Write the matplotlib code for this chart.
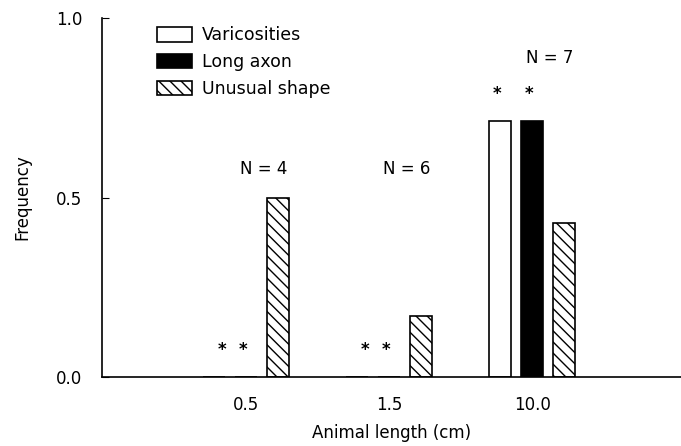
import numpy as np
import matplotlib
matplotlib.use("Agg")
import matplotlib.pyplot as plt
from matplotlib.patches import Patch

groups = ["0.5", "1.5", "10.0"]
group_n = [4, 6, 7]
varicosities = [0.0, 0.0, 5 / 7]
long_axon = [0.0, 0.0, 5 / 7]
unusual_shape = [0.50, 0.17, 3 / 7]

plt.rcParams["font.family"] = "DejaVu Sans"
plt.rcParams["hatch.linewidth"] = 1.0

HATCH = "\\" * 3

fig = plt.figure(figsize=(6.81, 4.46), dpi=100)
ax = fig.add_axes([0.1498, 0.1547, 0.8502, 0.8049])

x = np.arange(len(groups))
w = 0.154
off = 0.224
ax.bar(x - off, varicosities, w, color="white", edgecolor="black", linewidth=1.2)
ax.bar(x, long_axon, w, color="black", edgecolor="black", linewidth=1.2)
ax.bar(x + off, unusual_shape, w, color="white", edgecolor="black",
       linewidth=1.2, hatch=HATCH)

# stars and N labels
for i, n in enumerate(group_n):
    if varicosities[i] == 0:
        sx = [x[i] - 0.17, x[i] - 0.02]
        sy = 0.075
    else:
        sx = [x[i] - off - 0.02, x[i] - 0.02]
        sy = max(varicosities[i], long_axon[i]) + 0.075
    for s in sx:
        ax.text(s, sy, "*", ha="center", va="center", fontsize=12,
                fontweight="bold")
    ny = 0.58 if i < 2 else 0.89
    ax.text(x[i] + 0.12, ny, f"N = {n}", ha="center", va="center", fontsize=12)

ax.set_xlim(-1.007, 3.04)
ax.set_ylim(0, 1.0)
ax.set_xticks(x)
ax.set_xticklabels(groups)
ax.set_yticks([0.0, 0.5, 1.0])
ax.set_yticklabels(["0.0", "0.5", "1.0"])
ax.tick_params(axis="x", length=0, labelsize=12, pad=14)
ax.tick_params(axis="y", direction="in", length=5, labelsize=12, pad=14)
ax.spines["top"].set_visible(False)
ax.spines["right"].set_visible(False)
ax.spines["left"].set_linewidth(1.2)
ax.spines["bottom"].set_linewidth(1.2)
ax.set_xlabel("Animal length (cm)", fontsize=12, labelpad=7)
ax.set_ylabel("Frequency", fontsize=12, labelpad=18)

handles = [
    Patch(facecolor="white", edgecolor="black", linewidth=1.2),
    Patch(facecolor="black", edgecolor="black", linewidth=1.2),
    Patch(facecolor="white", edgecolor="black", linewidth=1.2, hatch=HATCH),
]
ax.legend(handles, ["Varicosities", "Long axon", "Unusual shape"],
          loc="upper left", bbox_to_anchor=(0.068, 1.02), frameon=False,
          fontsize=12.5, handlelength=2.0, handleheight=0.9,
          handletextpad=0.6, labelspacing=0.5)

fig.savefig("out.png", dpi=100)
